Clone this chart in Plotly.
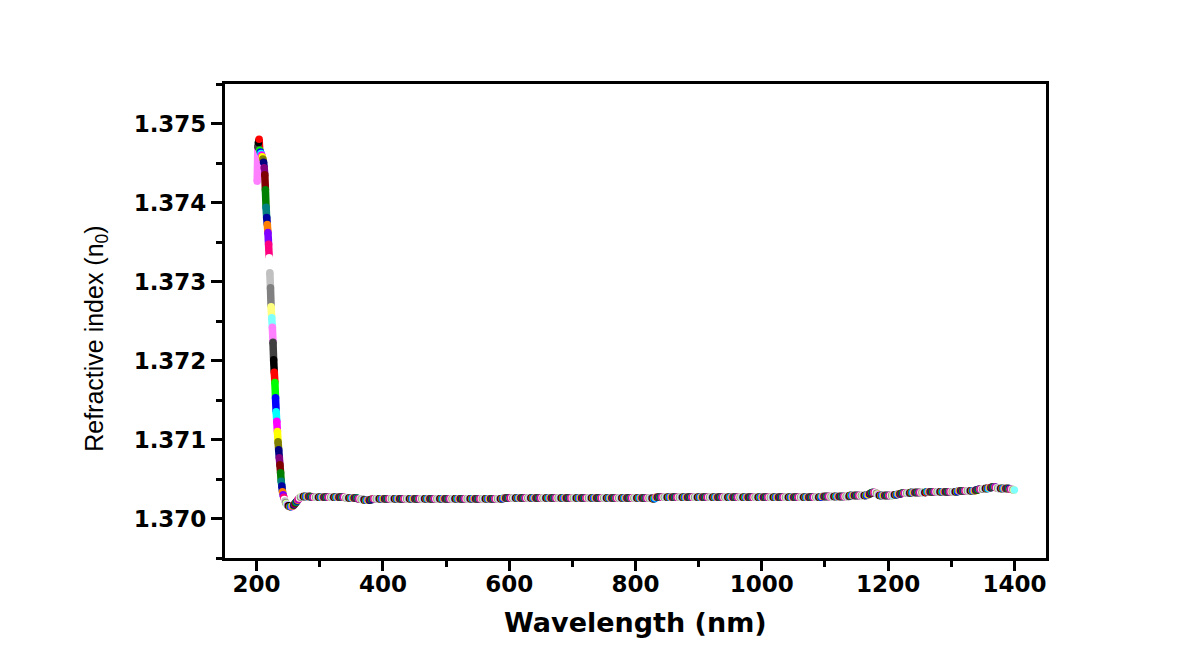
import numpy as np
import plotly.graph_objects as go

# ---------------- data ----------------
# one reading per nanometre, starting at this wavelength
wavelength_first_nm = 201
axis_x_ticks = [200, 400, 600, 800, 1000, 1200, 1400]
axis_y_ticks = [1.370, 1.371, 1.372, 1.373, 1.374, 1.375]

# refractive index n0 expressed as (n0 - 1.37) in units of 1e-5
# steep UV part, 201-242 nm
n_uv_e5 = [427, 470, 476, 480, 466, 464, 462, 460, 458, 455, 451, 444,
           435, 416, 394, 381, 372, 362, 347, 330, 311, 292, 268, 254,
           242, 223, 201, 185, 172, 153, 135, 123, 110, 97, 87, 77,
           68, 58, 47, 41, 34, 30]

# dip and flat visible/NIR part, 243-1400 nm (24 readings per row)
n_visnir_e5 = [
    27, 24, 22, 20, 19, 18, 17, 16, 16, 15, 15, 15, 15, 15, 16, 16, 17, 18, 19, 20, 21, 22, 23, 24,   # 243
    25, 26, 27, 27, 28, 28, 28, 28, 28, 28, 28, 28, 28, 28, 28, 28, 28, 28, 28, 28, 27, 27, 27, 27,   # 267
    27, 27, 27, 27, 27, 27, 27, 27, 27, 27, 27, 27, 27, 27, 27, 27, 27, 27, 27, 27, 27, 27, 27, 27,   # 291
    27, 27, 27, 27, 27, 27, 27, 27, 27, 27, 27, 27, 27, 27, 27, 27, 27, 27, 27, 27, 27, 27, 27, 27,   # 315
    27, 27, 26, 26, 26, 26, 26, 26, 26, 26, 26, 26, 26, 26, 26, 26, 26, 26, 26, 26, 26, 25, 25, 25,   # 339
    25, 25, 25, 24, 24, 24, 24, 24, 23, 23, 23, 23, 23, 23, 23, 23, 23, 24, 24, 24, 24, 24, 25, 25,   # 363
    25, 25, 25, 25, 25, 25, 25, 25, 25, 25, 25, 25, 25, 25, 25, 25, 25, 25, 25, 25, 25, 25, 25, 25,   # 387
    25, 25, 25, 25, 25, 25, 25, 25, 25, 25, 25, 25, 25, 25, 25, 25, 25, 25, 25, 25, 25, 25, 25, 25,   # 411
    25, 25, 25, 25, 25, 25, 25, 25, 25, 25, 25, 25, 25, 25, 25, 25, 25, 25, 25, 25, 25, 25, 25, 25,   # 435
    25, 25, 25, 25, 25, 25, 25, 25, 25, 25, 25, 25, 25, 25, 25, 25, 25, 25, 25, 25, 25, 25, 25, 25,   # 459
    25, 25, 25, 25, 25, 25, 25, 25, 25, 25, 25, 25, 25, 25, 25, 25, 25, 25, 25, 25, 25, 25, 25, 25,   # 483
    25, 25, 25, 25, 25, 25, 25, 25, 25, 25, 25, 25, 25, 25, 25, 25, 25, 25, 25, 25, 25, 25, 25, 25,   # 507
    25, 25, 25, 25, 25, 25, 25, 25, 25, 25, 25, 25, 25, 25, 25, 25, 25, 25, 25, 25, 25, 25, 25, 25,   # 531
    25, 25, 25, 25, 25, 25, 25, 25, 25, 25, 25, 25, 25, 25, 25, 25, 25, 25, 25, 25, 25, 25, 25, 25,   # 555
    25, 25, 25, 25, 25, 25, 25, 25, 25, 25, 25, 25, 26, 26, 26, 26, 26, 26, 26, 26, 26, 26, 26, 26,   # 579
    26, 26, 26, 26, 26, 26, 26, 26, 26, 26, 26, 26, 26, 26, 26, 26, 26, 26, 26, 26, 26, 26, 26, 26,   # 603
    26, 26, 26, 26, 26, 26, 26, 26, 26, 26, 26, 26, 26, 26, 26, 26, 26, 26, 26, 26, 26, 26, 26, 26,   # 627
    26, 26, 26, 26, 26, 26, 26, 26, 26, 26, 26, 26, 26, 26, 26, 26, 26, 26, 26, 26, 26, 26, 26, 26,   # 651
    26, 26, 26, 26, 26, 26, 26, 26, 26, 26, 26, 26, 26, 26, 26, 26, 26, 26, 26, 26, 26, 26, 26, 26,   # 675
    26, 26, 26, 26, 26, 26, 26, 26, 26, 26, 26, 26, 26, 26, 26, 26, 26, 26, 26, 26, 26, 26, 26, 26,   # 699
    26, 26, 26, 26, 26, 26, 26, 26, 26, 26, 26, 26, 26, 26, 26, 26, 26, 26, 26, 26, 26, 26, 26, 26,   # 723
    26, 26, 26, 26, 26, 26, 26, 26, 26, 26, 26, 26, 26, 26, 26, 26, 26, 26, 26, 26, 26, 26, 26, 26,   # 747
    26, 26, 26, 26, 26, 26, 26, 26, 26, 26, 26, 26, 26, 26, 26, 26, 26, 26, 26, 26, 26, 26, 26, 26,   # 771
    26, 26, 26, 26, 26, 26, 26, 26, 26, 26, 26, 26, 26, 26, 26, 26, 26, 26, 26, 26, 26, 26, 26, 26,   # 795
    26, 26, 26, 26, 26, 26, 26, 26, 25, 25, 25, 25, 26, 27, 27, 27, 27, 27, 27, 27, 27, 27, 27, 27,   # 819
    27, 27, 27, 27, 27, 27, 27, 27, 27, 27, 27, 27, 27, 27, 27, 27, 27, 27, 27, 27, 27, 27, 27, 27,   # 843
    27, 27, 27, 27, 27, 27, 27, 27, 27, 27, 27, 27, 27, 27, 27, 27, 27, 27, 27, 27, 27, 27, 27, 27,   # 867
    27, 27, 27, 27, 27, 27, 27, 27, 27, 27, 27, 27, 27, 27, 27, 27, 27, 27, 27, 27, 27, 27, 27, 27,   # 891
    27, 27, 27, 27, 27, 27, 27, 27, 27, 27, 27, 27, 27, 27, 27, 27, 27, 27, 27, 27, 27, 27, 27, 27,   # 915
    27, 27, 27, 27, 27, 27, 27, 27, 27, 27, 27, 27, 27, 27, 27, 27, 27, 27, 27, 27, 27, 27, 27, 27,   # 939
    27, 27, 27, 27, 27, 27, 27, 27, 27, 27, 27, 27, 27, 27, 27, 27, 27, 27, 27, 27, 27, 27, 27, 27,   # 963
    27, 27, 27, 27, 27, 27, 27, 27, 27, 27, 27, 27, 27, 27, 27, 27, 27, 27, 27, 27, 27, 27, 27, 27,   # 987
    27, 27, 27, 27, 27, 27, 27, 27, 27, 27, 27, 27, 27, 27, 27, 27, 27, 27, 27, 27, 27, 27, 27, 27,   # 1011
    27, 27, 27, 27, 27, 27, 27, 27, 27, 27, 27, 27, 27, 27, 27, 27, 27, 27, 27, 27, 27, 27, 27, 27,   # 1035
    27, 27, 27, 27, 27, 27, 27, 27, 27, 27, 27, 27, 27, 27, 27, 27, 27, 27, 27, 27, 27, 27, 27, 27,   # 1059
    27, 27, 27, 27, 27, 27, 27, 27, 27, 27, 27, 27, 28, 28, 28, 28, 28, 28, 28, 28, 28, 28, 28, 28,   # 1083
    28, 28, 28, 28, 28, 28, 28, 28, 28, 28, 28, 28, 28, 28, 28, 28, 28, 28, 28, 28, 28, 28, 28, 28,   # 1107
    28, 28, 28, 28, 28, 28, 28, 28, 29, 29, 29, 29, 29, 29, 29, 29, 29, 29, 29, 29, 29, 29, 29, 29,   # 1131
    29, 29, 29, 29, 29, 29, 29, 29, 29, 29, 29, 29, 30, 30, 30, 31, 31, 32, 32, 33, 33, 33, 33, 33,   # 1155
    33, 33, 32, 32, 31, 30, 30, 29, 29, 29, 29, 29, 29, 29, 29, 29, 29, 29, 29, 29, 29, 29, 29, 29,   # 1179
    29, 29, 29, 29, 29, 29, 30, 30, 30, 30, 30, 30, 31, 31, 31, 31, 31, 31, 32, 32, 32, 32, 32, 32,   # 1203
    32, 32, 32, 32, 32, 32, 32, 32, 33, 33, 33, 33, 33, 33, 33, 33, 33, 33, 33, 33, 33, 33, 33, 33,   # 1227
    33, 33, 33, 33, 33, 33, 33, 33, 33, 33, 34, 34, 34, 34, 34, 34, 34, 34, 34, 34, 34, 34, 34, 34,   # 1251
    34, 34, 34, 34, 34, 34, 34, 34, 34, 34, 34, 34, 34, 34, 34, 34, 34, 34, 34, 34, 34, 34, 34, 34,   # 1275
    34, 34, 34, 34, 34, 34, 34, 34, 34, 34, 34, 34, 35, 35, 35, 35, 35, 35, 35, 35, 35, 35, 35, 35,   # 1299
    35, 35, 35, 35, 35, 35, 35, 35, 35, 35, 35, 35, 35, 35, 35, 35, 36, 36, 36, 36, 37, 37, 37, 37,   # 1323
    37, 37, 37, 37, 38, 38, 38, 38, 38, 38, 38, 38, 38, 39, 39, 39, 39, 40, 40, 40, 40, 40, 40, 40,   # 1347
    39, 39, 39, 38, 38, 38, 38, 38, 38, 38, 38, 38, 38, 38, 38, 38, 38, 38, 38, 38, 38, 38, 37, 37,   # 1371
    37, 37, 37, 36, 36, 36,                                                                           # 1395
]

# Origin default 24-colour increment list (colour changes point by point)
origin_palette = ["#000000", "#FF0000", "#00FF00", "#0000FF", "#00FFFF", "#FF00FF",
                  "#FFFF00", "#808000", "#000080", "#800080", "#800000", "#008000",
                  "#008080", "#0000A0", "#FF8000", "#8000FF", "#FF0080", "#FFFFFF",
                  "#C0C0C0", "#808080", "#FFFF80", "#80FFFF", "#FF80FF", "#404040"]
first_colour_index = 22   # the first reading is drawn in light magenta

# ---------------- build ----------------
n_e5 = np.array(n_uv_e5 + n_visnir_e5, dtype=float)
wavelength = wavelength_first_nm + np.arange(len(n_e5))
n0 = 1.37 + n_e5 * 1e-5
colour_idx = (np.arange(len(n0)) + first_colour_index) % len(origin_palette)
point_colours = [origin_palette[i] for i in colour_idx]

SIZE = 7.5
fig = go.Figure()

# coloured joins between consecutive readings (fill the steep band)
for c, col in enumerate(origin_palette):
    xs, ys = [], []
    for i in range(len(n0) - 1):
        if colour_idx[i] == c:
            xs += [wavelength[i], wavelength[i + 1], None]
            ys += [n0[i], n0[i + 1], None]
    fig.add_trace(go.Scatter(x=xs, y=ys, mode="lines",
                             line=dict(color=col, width=SIZE),
                             hoverinfo="skip", showlegend=False))

fig.add_trace(go.Scatter(x=wavelength, y=n0, mode="markers",
                         marker=dict(size=SIZE, color=point_colours, line=dict(width=0)),
                         showlegend=False))

tick_font = dict(family="DejaVu Sans, Arial, sans-serif", size=23, color="black", weight="bold")

fig.update_xaxes(range=[150, 1450], tickmode="array", tickvals=axis_x_ticks,
                 ticktext=[str(v) for v in axis_x_ticks],
                 ticks="outside", ticklen=10, tickwidth=3, tickcolor="black",
                 ticklabelstandoff=-7,
                 showline=True, linewidth=3, linecolor="black", mirror=True,
                 showgrid=False, zeroline=False, tickfont=tick_font,
                 minor=dict(ticks="outside", ticklen=6, tickwidth=3, tickcolor="black",
                            tickmode="linear", tick0=100, dtick=100, showgrid=False))

fig.update_yaxes(range=[1.3695, 1.3755], tickmode="array", tickvals=axis_y_ticks,
                 ticktext=["%.3f" % v for v in axis_y_ticks],
                 ticks="outside", ticklen=11, tickwidth=3, tickcolor="black",
                 showline=True, linewidth=3, linecolor="black", mirror=True,
                 showgrid=False, zeroline=False, tickfont=tick_font,
                 minor=dict(ticks="outside", ticklen=6, tickwidth=3, tickcolor="black",
                            tickmode="linear", tick0=1.3695, dtick=0.0005, showgrid=False))

fig.update_layout(
    width=1200, height=657, autosize=False,
    margin=dict(l=225, r=154, t=84, b=99, pad=0),
    paper_bgcolor="white", plot_bgcolor="white",
    showlegend=False,
    annotations=[
        dict(text="Wavelength (nm)", xref="paper", yref="paper", x=0.5, y=-0.136,
             xanchor="center", yanchor="middle", showarrow=False,
             font=dict(family="DejaVu Sans, Arial, sans-serif", size=27, color="black", weight="bold")),
        dict(text="Refractive index (n<sub>0</sub>)", xref="paper", yref="paper",
             x=-0.158, y=0.463, xanchor="center", yanchor="middle", textangle=-90,
             showarrow=False,
             font=dict(family="Liberation Sans, Arial, sans-serif", size=25, color="black")),
    ],
)

fig.write_html("out.html")
